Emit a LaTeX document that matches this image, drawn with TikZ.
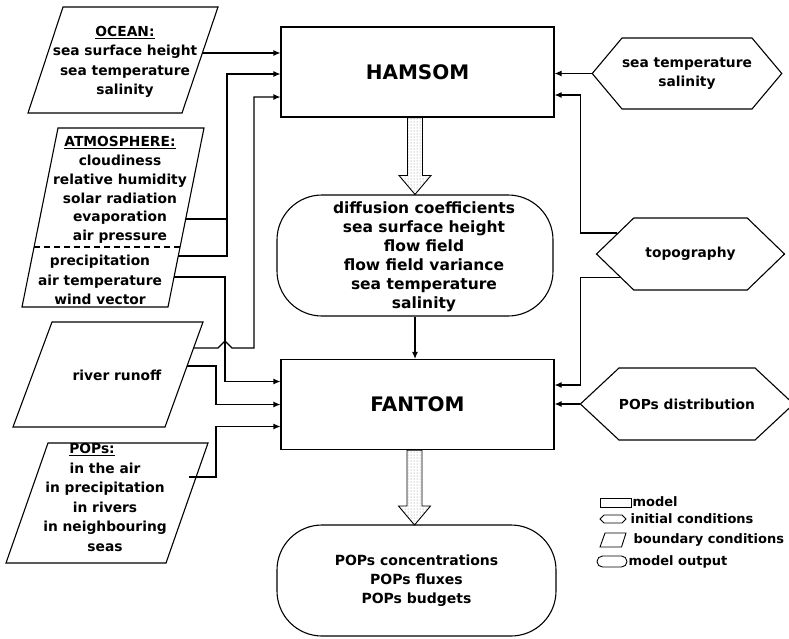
\documentclass[tikz,border=0pt]{standalone}
\usepackage{fontspec}
\setmainfont{DejaVu Sans}
\usetikzlibrary{shapes.symbols,arrows.meta,patterns,calc}

\begin{document}
\begin{tikzpicture}[x=1pt, y=-1pt, line width=1.1pt,
  >={Latex[length=7pt,width=6pt]},
  txt/.style={font=\bfseries\fontsize{13.8}{19.5}\selectfont, align=center, inner sep=0pt},
  key/.style={font=\bfseries\fontsize{13}{15}\selectfont, anchor=west, inner sep=0pt},
  model/.style={draw, rectangle, minimum width=273pt, minimum height=90pt,
    font=\bfseries\fontsize{20}{24}\selectfont},
  output/.style={draw, rectangle, rounded corners=45pt, minimum width=276pt, minimum height=121pt},
  init/.style={draw, signal, signal to=west and east, minimum width=188pt, minimum height=71pt, txt},
  fat/.style={draw, line width=0.9pt, pattern=dots, pattern color=gray}]
  \useasboundingbox (0,0) rectangle (789,638);

  % models and outputs
  \node[model] (hamsom) at (417.5,72) {HAMSOM};
  \node[model] (fantom) at (417.5,404.5) {FANTOM};
  \node[output] (hamout) at (415,255.5) {};
  \node[txt, font=\bfseries\fontsize{15.5}{19}\selectfont] (hamout-text) at (424,257)
    {diffusion coefficients\\sea surface height\\flow field\\flow field variance\\sea temperature\\salinity};
  \node[output, minimum width=279pt, minimum height=111pt, txt,
    font=\bfseries\fontsize{14}{19}\selectfont] (popsout) at (416.5,580.5)
    {POPs concentrations\\POPs fluxes\\POPs budgets};
  \coordinate (popsout-in) at (414.5,525);

  % initial conditions
  \node[init, signal pointer angle=100] (seatemp) at (687,73.5) {sea temperature\\salinity};
  \node[init, signal pointer angle=88, minimum height=72pt] (topo) at (690.5,254) {topography};
  \node[init, signal pointer angle=86, minimum height=72pt] (popsdist) at (687,404) {POPs distribution};

  % boundary conditions
  \draw (63,7) -- (218,7) -- (182,113) -- (28,113) -- cycle;
  \node[txt] (ocean) at (125,62) {\underline{OCEAN:}\\sea surface height\\sea temperature\\salinity};
  \draw (58,128) -- (204,128) -- (168,307) -- (22,307) -- cycle;
  \draw[dash pattern=on 6pt off 4pt] (34,247) -- (180,247);
  \node[txt, font=\bfseries\fontsize{13.8}{18.8}\selectfont] (atmos) at (120,190)
    {\underline{ATMOSPHERE:}\\cloudiness\\relative humidity\\solar radiation\\evaporation\\air pressure};
  \node[txt] (atmos-low) at (100,280) {precipitation\\air temperature\\wind vector};
  \draw (52,322) -- (203,322) -- (165,427) -- (13,427) -- cycle;
  \node[txt] (river) at (117,375) {river runoff};
  \draw (48,443) -- (208,443) -- (166,563) -- (6,563) -- cycle;
  \node[txt] (pops) at (105,497.5)
    {\underline{POPs:}\rule{26pt}{0pt}\\in the air\\in precipitation\\in rivers\\in neighbouring\\seas};

  \coordinate (ocean-out) at (202,53);
  \coordinate (atmos-out1) at (186,219);
  \coordinate (atmos-out2) at (178,256);
  \coordinate (atmos-out3) at (174,277);
  \coordinate (river-out1) at (194,348);
  \coordinate (river-out2) at (187,366);
  \coordinate (pops-out) at (189,477);
  \coordinate (atmos-bus) at (227,74);
  \coordinate (river-bus) at (254,97);
  \coordinate (hop) at (225,348);

  % connectors
  \draw[->] (ocean-out) -- (ocean-out -| hamsom.west);
  \draw[->] (atmos-out1) -| (atmos-bus) -- (atmos-bus -| hamsom.west);
  \draw (atmos-out2) -| (atmos-bus);
  \draw[->] (atmos-out3) -| (hop) |- ([yshift=23pt]fantom.west);
  \draw[->] (river-out1) -- ([xshift=-7pt]hop) -- ([yshift=7pt]hop) -- ([xshift=7pt]hop)
    -| (river-bus) -- (river-bus -| hamsom.west);
  \draw[->] (river-out2) -- ++(29,0) |- (fantom.west);
  \draw[->] (pops-out) -- ++(27,0) |- ([yshift=-22pt]fantom.west);

  \draw[->] (seatemp.west) -- (seatemp.west -| hamsom.east);
  \draw[->] (topo.164) -| ([xshift=26pt,yshift=-23pt]hamsom.east) -- ([yshift=-23pt]hamsom.east);
  \draw[->] (topo.198) -| ([xshift=26pt,yshift=19.5pt]fantom.east) -- ([yshift=19.5pt]fantom.east);
  \draw[->] (popsdist.west) -- (popsdist.west -| fantom.east);

  \draw[fat] ($(hamsom.south -| hamout.north)+(-7.5,0)$) -- ($(hamout.north)+(-7.5,-19)$)
    -- ($(hamout.north)+(-16,-19)$) -- (hamout.north) -- ($(hamout.north)+(16,-19)$)
    -- ($(hamout.north)+(7.5,-19)$) -- ($(hamsom.south -| hamout.north)+(7.5,0)$) -- cycle;
  \draw[->] (hamout.south) -- (hamout.south |- fantom.north);
  \draw[fat] ($(fantom.south -| popsout-in)+(-7.5,0)$) -- ($(popsout-in)+(-7.5,-19)$)
    -- ($(popsout-in)+(-16,-19)$) -- (popsout-in) -- ($(popsout-in)+(16,-19)$)
    -- ($(popsout-in)+(7.5,-19)$) -- ($(fantom.south -| popsout-in)+(7.5,0)$) -- cycle;

  % legend
  \node[model, minimum width=31pt, minimum height=9pt, inner sep=0pt, line width=0.9pt] (key-model) at (615.5,502.5) {};
  \node[init, minimum width=26pt, minimum height=8pt, signal pointer angle=90, line width=0.9pt] (key-init) at (613,519) {};
  \draw[line width=0.9pt] (605,533) -- (626,533) -- (621.5,547) -- (600,547) -- cycle;
  \node[output, minimum width=30pt, minimum height=11pt, rounded corners=5.5pt, inner sep=0pt, line width=0.9pt] (key-output) at (612,561.5) {};
  \node[key] (key-model-label) at (632,502) {model};
  \node[key] (key-init-label) at (630,519) {initial conditions};
  \node[key] (key-bound-label) at (633,540) {boundary conditions};
  \node[key] (key-output-label) at (628,562) {model output};
\end{tikzpicture}
\end{document}
